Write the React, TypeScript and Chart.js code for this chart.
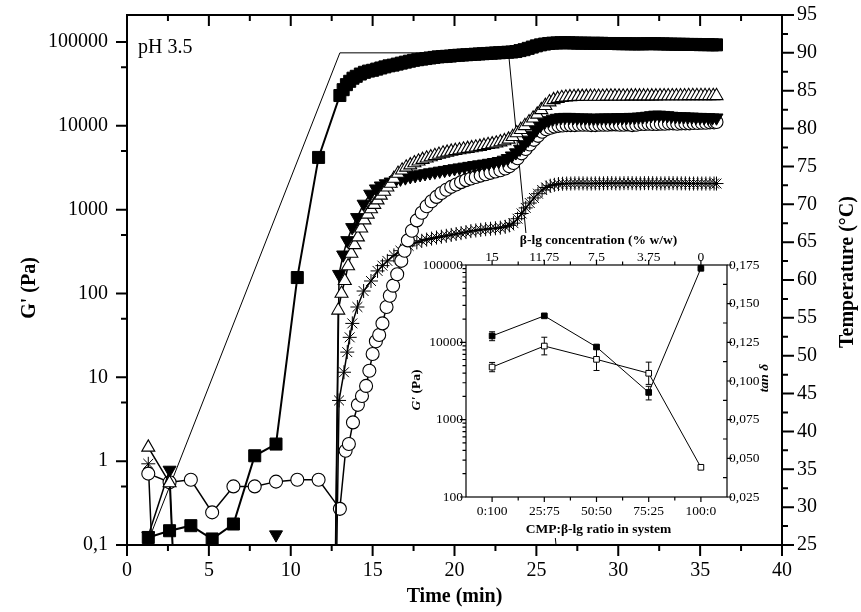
import React, { useEffect, useRef } from "react";
import { Chart, registerables } from "chart.js";

Chart.register(...registerables);

const SERIF = '"Liberation Serif", "Times New Roman", serif';

// ---------- main chart axes ----------
const timeTicks = [0, 5, 10, 15, 20, 25, 30, 35, 40];
const gTicks = [0.1, 1, 10, 100, 1000, 10000, 100000];
const gTickLabels = ["0,1", "1", "10", "100", "1000", "10000", "100000"];
const tempTicks = [25, 30, 35, 40, 45, 50, 55, 60, 65, 70, 75, 80, 85, 90, 95];

// ---------- main chart series: [time (min), value] ----------
type P = [number, number | null];

const tempProfile: P[] = [[1.2, 25], [13.0, 90], [23.3, 90], [26.2, 25]];

const squareG: P[] = [
  [1.3, 0.123], [2.6, 0.148], [3.9, 0.17], [5.2, 0.118], [6.5, 0.178], [7.8, 1.16], [9.1, 1.6], [10.4, 155], [11.7, 4200],
  [13.0, 23000], [13.2, 27000], [13.4, 31000], [13.6, 34000], [13.8, 37000], [14.0, 39000], [14.25, 41500], [14.5, 43500],
  [14.75, 45000], [15.0, 46000], [15.25, 47500], [15.5, 49000], [15.75, 50500], [16.0, 52000], [16.25, 53000], [16.5, 54500],
  [16.75, 56000], [17.0, 57500], [17.25, 59000], [17.5, 60500], [17.75, 61500], [18.0, 62500], [18.25, 63500], [18.5, 64500],
  [18.75, 65500], [19.0, 66500], [19.25, 67000], [19.5, 67500], [19.75, 68000], [20.0, 69000], [20.25, 69500], [20.5, 70000],
  [20.75, 70500], [21.0, 71000], [21.25, 71500], [21.5, 72000], [21.75, 72500], [22.0, 73000], [22.25, 73500], [22.5, 74000],
  [22.75, 74500], [23.0, 75000], [23.25, 75500], [23.5, 76000], [23.75, 77000], [24.0, 79000], [24.25, 81000], [24.5, 84000],
  [24.75, 87000], [25.0, 90000], [25.25, 92500], [25.5, 94500], [25.75, 96000], [26.0, 97000], [26.25, 97500], [26.5, 98000],
  [26.75, 98000], [27.0, 98000], [27.25, 97500], [27.5, 97000], [27.75, 97000], [28.0, 97000], [28.25, 96500], [28.5, 96500],
  [28.75, 96500], [29.0, 96500], [29.25, 96000], [29.5, 96000], [29.75, 96000], [30.0, 95500], [30.25, 95500], [30.5, 95500],
  [30.75, 95000], [31.0, 95000], [31.25, 95000], [31.5, 95000], [31.75, 95500], [32.0, 95500], [32.25, 95500], [32.5, 95000],
  [32.75, 95000], [33.0, 94500], [33.25, 94500], [33.5, 94000], [33.75, 94000], [34.0, 94000], [34.25, 93500], [34.5, 93500],
  [34.75, 93500], [35.0, 93000], [35.25, 93000], [35.5, 93000], [35.75, 92500], [36.0, 92500],
];

const openTriG: P[] = [
  [1.3, 1.46], [2.6, 0.55], [3.9, 1e-6], [5.2, null], [12.5, 1e-5],
  [12.9, 63], [13.1, 100], [13.3, 142], [13.5, 213], [13.7, 300], [13.9, 380], [14.1, 470], [14.3, 600], [14.5, 750],
  [14.7, 880], [14.9, 1020], [15.1, 1150], [15.3, 1300], [15.5, 1480], [15.7, 1650], [15.9, 1850], [16.1, 2050],
  [16.3, 2350], [16.55, 2700], [16.8, 2950], [17.05, 3200], [17.3, 3400], [17.55, 3600], [17.8, 3780], [18.05, 3950],
  [18.3, 4100], [18.55, 4250], [18.8, 4400], [19.05, 4550], [19.3, 4700], [19.55, 4820], [19.8, 4950], [20.05, 5050],
  [20.3, 5150], [20.55, 5250], [20.8, 5350], [21.05, 5450], [21.3, 5550], [21.55, 5650], [21.8, 5800], [22.05, 5950],
  [22.3, 6050], [22.55, 6200], [22.8, 6400], [23.05, 6600], [23.3, 6900], [23.55, 7400], [23.8, 8200], [24.05, 9000],
  [24.3, 10000], [24.55, 11100], [24.8, 12300], [25.05, 13700], [25.3, 15500], [25.55, 17400], [25.8, 19200],
  [26.05, 20400], [26.3, 21100], [26.55, 21600], [26.8, 21900], [27.05, 22100], [27.3, 22200], [27.55, 22300],
  [27.8, 22300], [28.05, 22300], [28.3, 22400], [28.55, 22400], [28.8, 22400], [29.05, 22400], [29.3, 22500],
  [29.55, 22500], [29.8, 22500], [30.05, 22500], [30.3, 22500], [30.55, 22500], [30.8, 22600], [31.05, 22600],
  [31.3, 22600], [31.55, 22600], [31.8, 22600], [32.05, 22600], [32.3, 22600], [32.55, 22700], [32.8, 22700],
  [33.05, 22700], [33.3, 22700], [33.55, 22700], [33.8, 22700], [34.05, 22700], [34.3, 22800], [34.55, 22800],
  [34.8, 22800], [35.05, 22800], [35.3, 22800], [35.55, 22800], [35.8, 22800], [36.0, 22800],
];

const downTriG: P[] = [
  [1.3, 0.129], [2.6, 0.785], [3.9, 1e-6], [5.2, null], [9.1, 0.133], [10.4, null], [12.5, 1e-5],
  [12.95, 170], [13.2, 290], [13.45, 430], [13.75, 615], [14.05, 810], [14.45, 1170], [14.85, 1540], [15.2, 1780],
  [15.5, 1930], [15.8, 2050], [16.1, 2150], [16.4, 2240], [16.7, 2330], [17.0, 2410], [17.3, 2490], [17.6, 2560],
  [17.9, 2630], [18.2, 2700], [18.5, 2770], [18.8, 2830], [19.1, 2900], [19.4, 2960], [19.7, 3030], [20.0, 3100],
  [20.3, 3170], [20.6, 3240], [20.9, 3310], [21.2, 3380], [21.5, 3450], [21.8, 3520], [22.1, 3600], [22.4, 3680],
  [22.7, 3780], [23.0, 3920], [23.25, 4100], [23.5, 4400], [23.75, 4800], [24.0, 5300], [24.25, 6000], [24.5, 6800],
  [24.75, 7800], [25.0, 9000], [25.25, 10100], [25.5, 11000], [25.75, 11600], [26.0, 12100], [26.25, 12400],
  [26.5, 12600], [26.75, 12700], [27.0, 12700], [27.25, 12600], [27.5, 12500], [27.75, 12500], [28.0, 12500],
  [28.25, 12400], [28.5, 12400], [28.75, 12400], [29.0, 12500], [29.25, 12500], [29.5, 12500], [29.75, 12500],
  [30.0, 12600], [30.25, 12600], [30.5, 12600], [30.75, 12700], [31.0, 12700], [31.25, 12800], [31.5, 12900],
  [31.75, 13100], [32.0, 13300], [32.25, 13500], [32.5, 13500], [32.75, 13400], [33.0, 13300], [33.25, 13100],
  [33.5, 13000], [33.75, 12900], [34.0, 12900], [34.25, 12800], [34.5, 12800], [34.75, 12700], [35.0, 12700],
  [35.25, 12600], [35.5, 12600], [35.75, 12500], [36.0, 12500],
];

const circleG: P[] = [
  [1.3, 0.71], [2.6, 0.56], [3.9, 0.6], [5.2, 0.245], [6.5, 0.5], [7.8, 0.5], [9.1, 0.57], [10.4, 0.6], [11.7, 0.6], [13.0, 0.27],
  [13.35, 1.33], [13.55, 1.6], [13.8, 2.9], [14.1, 4.7], [14.35, 6.0], [14.6, 7.9], [14.8, 12], [15.0, 19], [15.2, 27],
  [15.4, 32], [15.6, 44], [15.85, 69], [16.05, 94], [16.25, 124], [16.5, 170], [16.75, 245], [16.95, 324], [17.15, 430],
  [17.4, 560], [17.7, 745], [18.0, 920], [18.3, 1100], [18.6, 1260], [18.9, 1420], [19.2, 1580], [19.5, 1730],
  [19.8, 1870], [20.1, 2000], [20.4, 2130], [20.7, 2250], [21.0, 2350], [21.3, 2450], [21.6, 2550], [21.9, 2650],
  [22.2, 2750], [22.5, 2850], [22.8, 2950], [23.1, 3100], [23.35, 3300], [23.6, 3600], [23.85, 4100], [24.1, 4700],
  [24.35, 5300], [24.6, 6000], [24.85, 6800], [25.1, 7600], [25.35, 8500], [25.6, 9100], [25.85, 9500], [26.1, 9800],
  [26.35, 10000], [26.6, 10100], [26.85, 10200], [27.1, 10200], [27.35, 10200], [27.6, 10300], [27.85, 10300],
  [28.1, 10300], [28.35, 10200], [28.6, 10200], [28.85, 10300], [29.1, 10300], [29.35, 10300], [29.6, 10400],
  [29.85, 10400], [30.1, 10300], [30.35, 10300], [30.6, 10400], [30.85, 10200], [31.1, 10300], [31.35, 10500],
  [31.6, 10500], [31.85, 10600], [32.1, 10500], [32.35, 10500], [32.6, 10600], [32.85, 10600], [33.1, 10700],
  [33.35, 10700], [33.6, 10600], [33.85, 10700], [34.1, 10700], [34.35, 10700], [34.6, 10800], [34.85, 10800],
  [35.1, 10900], [35.35, 10900], [35.6, 11000], [35.85, 11000], [36.0, 11100],
];

const starG: P[] = [
  [1.3, 0.93], [2.6, 1e-6], [3.9, null], [12.5, 1e-5],
  [12.95, 5.3], [13.25, 11.5], [13.45, 20], [13.6, 30], [13.76, 44], [14.07, 69], [14.45, 107], [14.9, 141], [15.3, 186],
  [15.6, 215], [15.9, 245], [16.3, 285], [16.7, 324], [17.2, 370], [17.7, 407], [18.0, 425], [18.3, 440], [18.6, 452],
  [18.9, 465], [19.2, 476], [19.5, 488], [19.8, 500], [20.1, 513], [20.4, 525], [20.7, 540], [21.0, 555], [21.3, 565],
  [21.6, 575], [21.9, 585], [22.2, 592], [22.5, 600], [22.8, 610], [23.1, 625], [23.35, 650], [23.6, 690], [23.85, 780],
  [24.1, 900], [24.35, 1050], [24.6, 1200], [24.85, 1380], [25.1, 1550], [25.35, 1720], [25.6, 1840], [25.85, 1930],
  [26.1, 1980], [26.35, 2020], [26.6, 2040], [26.85, 2050], [27.1, 2050], [27.35, 2060], [27.6, 2060], [27.85, 2060],
  [28.1, 2050], [28.35, 2050], [28.6, 2060], [28.85, 2060], [29.1, 2060], [29.35, 2070], [29.6, 2070], [29.85, 2060],
  [30.1, 2060], [30.35, 2070], [30.6, 2070], [30.85, 2070], [31.1, 2060], [31.35, 2060], [31.6, 2070], [31.85, 2070],
  [32.1, 2070], [32.35, 2060], [32.6, 2060], [32.85, 2060], [33.1, 2070], [33.35, 2070], [33.6, 2060], [33.85, 2060],
  [34.1, 2060], [34.35, 2050], [34.6, 2050], [34.85, 2050], [35.1, 2050], [35.35, 2050], [35.6, 2050], [35.85, 2050],
  [36.0, 2050],
];

// ---------- inset data ----------
const ratioCats = ["0:100", "25:75", "50:50", "75:25", "100:0"];
const concLabels = ["15", "11.75", "7.5", "3.75", "0"];
const insetGp = [12100, 22000, 8700, 2250, 90600];
const insetGpErr = [1600, 600, 500, 450, 2000];
const insetTan = [0.109, 0.1226, 0.114, 0.105, 0.0442];
const insetTanErr = [0.003, 0.0057, 0.0072, 0.0072, 0.0012];
const insetGTicks = [100, 1000, 10000, 100000];
const insetGTickLabels = ["100", "1000", "10000", "100000"];
const tanTicks = [0.025, 0.05, 0.075, 0.1, 0.125, 0.15, 0.175];
const tanTickLabels = ["0,025", "0,050", "0,075", "0,100", "0,125", "0,150", "0,175"];

// ---------- helpers ----------
const toPts = (arr: P[]) => arr.map(([x, y]) => ({ x, y }));

type Part = { t: string; f: string };
function drawRich(ctx: CanvasRenderingContext2D, parts: Part[], cx: number, cy: number, rot: number) {
  ctx.save();
  ctx.translate(cx, cy);
  ctx.rotate(rot);
  let w = 0;
  for (const p of parts) {
    ctx.font = p.f;
    w += ctx.measureText(p.t).width;
  }
  let x = -w / 2;
  ctx.textBaseline = "middle";
  ctx.textAlign = "left";
  for (const p of parts) {
    ctx.font = p.f;
    ctx.fillText(p.t, x, 0);
    x += ctx.measureText(p.t).width;
  }
  ctx.restore();
}

const hiddenAxis = (extra: any) => ({
  display: true,
  ticks: { display: false },
  grid: { display: false },
  border: { display: false },
  title: { display: false },
  ...extra,
});

const mainDecor = {
  id: "mainDecor",
  afterDraw(chart: any) {
    const { ctx, chartArea: a, scales } = chart;
    const sx = scales.x;
    const sy = scales.y;
    const st = scales.yT;
    ctx.save();
    ctx.strokeStyle = "#000";
    ctx.fillStyle = "#000";
    ctx.lineWidth = 2;
    ctx.strokeRect(a.left, a.top, a.right - a.left, a.bottom - a.top);

    ctx.beginPath();
    for (let i = 0; i < timeTicks.length; i++) {
      const v = timeTicks[i];
      const x = sx.getPixelForValue(v);
      ctx.moveTo(x, a.bottom); ctx.lineTo(x, a.bottom + 11);
      ctx.moveTo(x, a.top); ctx.lineTo(x, a.top + 11);
      if (i < timeTicks.length - 1) {
        const xm = sx.getPixelForValue((v + timeTicks[i + 1]) / 2);
        ctx.moveTo(xm, a.bottom); ctx.lineTo(xm, a.bottom + 6);
        ctx.moveTo(xm, a.top); ctx.lineTo(xm, a.top + 6);
      }
    }
    for (const v of gTicks) {
      const y = sy.getPixelForValue(v);
      ctx.moveTo(a.left, y); ctx.lineTo(a.left - 11, y);
      const ym = sy.getPixelForValue(v * 5);
      if (ym >= a.top) { ctx.moveTo(a.left, ym); ctx.lineTo(a.left - 6, ym); }
    }
    for (let i = 0; i < tempTicks.length; i++) {
      const v = tempTicks[i];
      const y = st.getPixelForValue(v);
      ctx.moveTo(a.right, y); ctx.lineTo(a.right + 12, y);
      if (i < tempTicks.length - 1) {
        const ym = st.getPixelForValue(v + 2.5);
        ctx.moveTo(a.right, ym); ctx.lineTo(a.right + 6, ym);
      }
    }
    ctx.stroke();

    ctx.font = `20px ${SERIF}`;
    ctx.textBaseline = "middle";
    ctx.textAlign = "center";
    for (const v of timeTicks) ctx.fillText(String(v), sx.getPixelForValue(v), a.bottom + 26);
    ctx.textAlign = "right";
    gTicks.forEach((v, i) => ctx.fillText(gTickLabels[i], a.left - 19, sy.getPixelForValue(v)));
    ctx.textAlign = "left";
    for (const v of tempTicks) ctx.fillText(String(v), a.right + 15, st.getPixelForValue(v));

    ctx.textBaseline = "alphabetic";
    ctx.fillText("pH 3.5", a.left + 11, a.top + 37.5);

    const bold = `bold 20px ${SERIF}`;
    drawRich(ctx, [{ t: "Time (min)", f: bold }], (a.left + a.right) / 2, 597, 0);
    drawRich(ctx, [{ t: "G' (Pa)", f: bold }], 30, 288, -Math.PI / 2);
    drawRich(ctx, [{ t: "Temperature (°C)", f: bold }], 848, 272, -Math.PI / 2);
    ctx.restore();
  },
};

const insetDecor = {
  id: "insetDecor",
  beforeDraw(chart: any) {
    const { ctx, width, height } = chart;
    ctx.save();
    ctx.fillStyle = "#fff";
    ctx.fillRect(18, 20, width - 18, height - 22);
    ctx.fillRect(112, 5, 173, 16);
    ctx.restore();
  },
  beforeDatasetsDraw(chart: any) {
    const { ctx, scales } = chart;
    const sx = scales.x;
    ctx.save();
    ctx.strokeStyle = "#000";
    ctx.lineWidth = 1;
    const bars = (vals: number[], errs: number[], sc: any) => {
      vals.forEach((v, i) => {
        const x = sx.getPixelForValue(i);
        const y1 = sc.getPixelForValue(v + errs[i]);
        const y2 = sc.getPixelForValue(v - errs[i]);
        ctx.beginPath();
        ctx.moveTo(x, y1); ctx.lineTo(x, y2);
        ctx.moveTo(x - 3, y1); ctx.lineTo(x + 3, y1);
        ctx.moveTo(x - 3, y2); ctx.lineTo(x + 3, y2);
        ctx.stroke();
      });
    };
    bars(insetGp, insetGpErr, scales.y);
    bars(insetTan, insetTanErr, scales.y2);
    ctx.restore();
  },
  afterDraw(chart: any) {
    const { ctx, chartArea: a, scales } = chart;
    const sx = scales.x;
    const sy = scales.y;
    const st = scales.y2;
    ctx.save();
    ctx.strokeStyle = "#000";
    ctx.fillStyle = "#000";
    ctx.lineWidth = 1.2;
    ctx.strokeRect(a.left, a.top, a.right - a.left, a.bottom - a.top);
    ctx.beginPath();
    for (let i = 0; i < ratioCats.length; i++) {
      const x = sx.getPixelForValue(i);
      ctx.moveTo(x, a.bottom); ctx.lineTo(x, a.bottom + 5);
      ctx.moveTo(x, a.top); ctx.lineTo(x, a.top - 5);
      if (i < ratioCats.length - 1) {
        const xm = sx.getPixelForValue(i + 0.5);
        ctx.moveTo(xm, a.bottom); ctx.lineTo(xm, a.bottom + 3.5);
        ctx.moveTo(xm, a.top); ctx.lineTo(xm, a.top - 3.5);
      }
    }
    for (let k = 0; k < insetGTicks.length; k++) {
      const d = insetGTicks[k];
      const y = sy.getPixelForValue(d);
      ctx.moveTo(a.left, y); ctx.lineTo(a.left - 6, y);
      if (k < insetGTicks.length - 1) {
        for (let m = 2; m <= 9; m++) {
          const ym = sy.getPixelForValue(d * m);
          ctx.moveTo(a.left, ym); ctx.lineTo(a.left - 3.5, ym);
        }
      }
    }
    for (let i = 0; i < tanTicks.length; i++) {
      const y = st.getPixelForValue(tanTicks[i]);
      ctx.moveTo(a.right, y); ctx.lineTo(a.right + 5, y);
      if (i < tanTicks.length - 1) {
        const ym = st.getPixelForValue((tanTicks[i] + tanTicks[i + 1]) / 2);
        ctx.moveTo(a.right, ym); ctx.lineTo(a.right - 4, ym);
      }
    }
    ctx.stroke();

    ctx.font = `13.5px ${SERIF}`;
    ctx.textBaseline = "middle";
    ctx.textAlign = "center";
    ratioCats.forEach((c, i) => ctx.fillText(c, sx.getPixelForValue(i), a.bottom + 14));
    concLabels.forEach((c, i) => ctx.fillText(c, sx.getPixelForValue(i), a.top - 8));
    ctx.textAlign = "right";
    insetGTicks.forEach((v, i) => ctx.fillText(insetGTickLabels[i], a.left - 3, sy.getPixelForValue(v)));
    ctx.textAlign = "left";
    tanTicks.forEach((v, i) => ctx.fillText(tanTickLabels[i], a.right + 2, st.getPixelForValue(v)));

    const b = `bold 13.5px ${SERIF}`;
    const bi = `italic bold 13.5px ${SERIF}`;
    drawRich(ctx, [{ t: "β-lg concentration (% w/w)", f: b }], (a.left + a.right) / 2 + 2, 13, 0);
    drawRich(ctx, [{ t: "CMP:β-lg ratio in system", f: b }], (a.left + a.right) / 2 + 2, 302, 0);
    drawRich(ctx, [{ t: "G'", f: bi }, { t: " (Pa)", f: b }], 17, 162, -Math.PI / 2);
    drawRich(ctx, [{ t: "tan δ", f: bi }], 365, 150, -Math.PI / 2);
    ctx.restore();
  },
};

function mainConfig(): any {
  const common = {
    borderColor: "#000",
    tension: 0,
    spanGaps: false,
    pointBorderColor: "#000",
    xAxisID: "x",
    yAxisID: "y",
    clip: { left: 0, top: 0, right: 0, bottom: 0 },
  };
  return {
    type: "line",
    data: {
      datasets: [
        {
          ...common, label: "Temperature", data: toPts(tempProfile), yAxisID: "yT",
          borderWidth: 1, pointRadius: 0, order: 10,
        },
        {
          ...common, label: "open triangles", data: toPts(openTriG), borderWidth: 1.5,
          pointStyle: "triangle", pointRadius: 7.5, pointBackgroundColor: "#fff", pointBorderWidth: 1.1, order: 2,
        },
        {
          ...common, label: "filled down triangles", data: toPts(downTriG), borderWidth: 1.5,
          pointStyle: "triangle", pointRotation: 180, pointRadius: 7.5, pointBackgroundColor: "#000", pointBorderWidth: 1, order: 3,
        },
        {
          ...common, label: "open circles", data: toPts(circleG), borderWidth: 1.5,
          pointStyle: "circle", pointRadius: 6.5, pointBackgroundColor: "#fff", pointBorderWidth: 1.1, order: 4,
        },
        {
          ...common, label: "filled squares", data: toPts(squareG), borderWidth: 2,
          pointStyle: "rect", pointRadius: 8.5, pointBackgroundColor: "#000", pointBorderWidth: 1, order: 5,
        },
        {
          ...common, label: "stars", data: toPts(starG), borderWidth: 1.5,
          pointStyle: "star", pointRadius: 7, pointBackgroundColor: "#000", pointBorderWidth: 1, order: 6,
        },
      ],
    },
    options: {
      responsive: false,
      animation: false,
      devicePixelRatio: 1,
      events: [],
      layout: { padding: 0 },
      plugins: { legend: { display: false }, tooltip: { enabled: false } },
      scales: {
        x: hiddenAxis({ type: "linear", position: "bottom", min: 0, max: 40, afterFit: (s: any) => { s.height = 67; } }),
        xTop: hiddenAxis({ type: "linear", position: "top", min: 0, max: 40, afterFit: (s: any) => { s.height = 15; } }),
        y: hiddenAxis({ type: "logarithmic", position: "left", min: 0.1, max: 210000, afterFit: (s: any) => { s.width = 127; } }),
        yT: hiddenAxis({ type: "linear", position: "right", min: 25, max: 95, afterFit: (s: any) => { s.width = 79; } }),
      },
    },
    plugins: [mainDecor],
  };
}

function insetConfig(): any {
  return {
    type: "line",
    data: {
      datasets: [
        {
          label: "G'", data: insetGp.map((y, i) => ({ x: i, y })), xAxisID: "x", yAxisID: "y",
          borderColor: "#000", borderWidth: 1, tension: 0, pointStyle: "rect", pointRadius: 4,
          pointBackgroundColor: "#000", pointBorderColor: "#000", pointBorderWidth: 1,
        },
        {
          label: "tan δ", data: insetTan.map((y, i) => ({ x: i, y })), xAxisID: "x", yAxisID: "y2",
          borderColor: "#000", borderWidth: 1, tension: 0, pointStyle: "rect", pointRadius: 4,
          pointBackgroundColor: "#fff", pointBorderColor: "#000", pointBorderWidth: 1,
        },
      ],
    },
    options: {
      responsive: false,
      animation: false,
      devicePixelRatio: 1,
      events: [],
      layout: { padding: 0 },
      plugins: { legend: { display: false }, tooltip: { enabled: false } },
      scales: {
        x: hiddenAxis({ type: "linear", position: "bottom", min: -0.5, max: 4.5, afterFit: (s: any) => { s.height = 43; } }),
        xTop: hiddenAxis({ type: "linear", position: "top", min: -0.5, max: 4.5, afterFit: (s: any) => { s.height = 37; } }),
        y: hiddenAxis({ type: "logarithmic", position: "left", min: 100, max: 100000, afterFit: (s: any) => { s.width = 66; } }),
        y2: hiddenAxis({ type: "linear", position: "right", min: 0.025, max: 0.175, afterFit: (s: any) => { s.width = 48; } }),
      },
    },
    plugins: [insetDecor],
  };
}

export default function App() {
  const mainRef = useRef<HTMLCanvasElement>(null);
  const insetRef = useRef<HTMLCanvasElement>(null);
  useEffect(() => {
    const main = new Chart(mainRef.current as HTMLCanvasElement, mainConfig());
    const inset = new Chart(insetRef.current as HTMLCanvasElement, insetConfig());
    return () => {
      main.destroy();
      inset.destroy();
    };
  }, []);
  return (
    <div style={{ position: "absolute", left: 0, top: 0, width: 861, height: 612, background: "#fff" }}>
      <canvas ref={mainRef} width={861} height={612} style={{ position: "absolute", left: 0, top: 0, width: 861, height: 612 }} />
      <canvas ref={insetRef} width={375} height={312} style={{ position: "absolute", left: 400, top: 228, width: 375, height: 312 }} />
    </div>
  );
}
